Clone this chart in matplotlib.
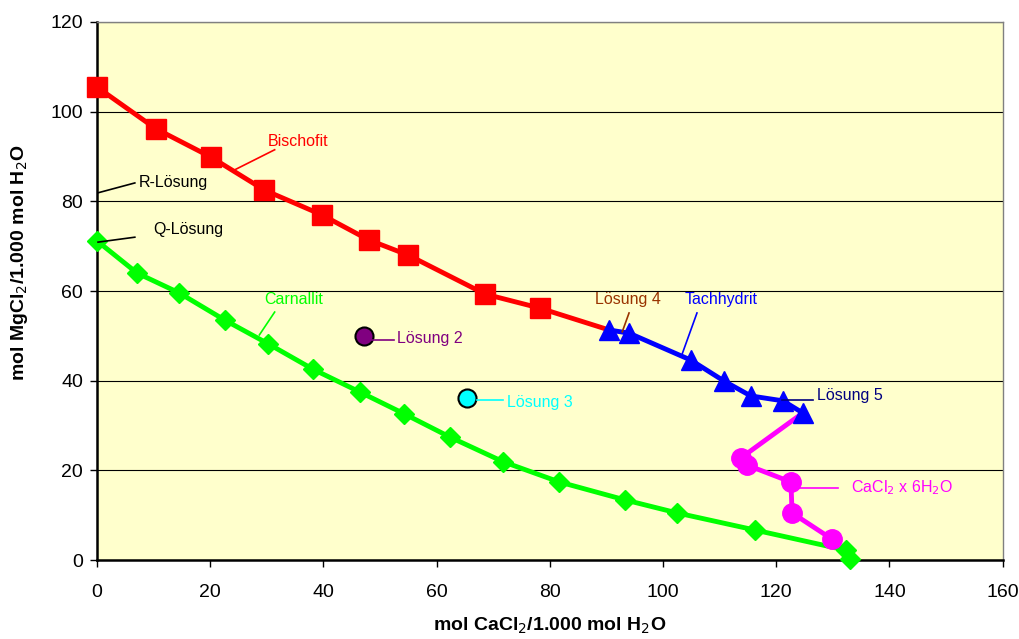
import matplotlib.pyplot as plt

plt.rcParams['font.family'] = ['Liberation Sans', 'DejaVu Sans']

# Bischofit (red squares)
bis_x = [0, 10.4, 20.1, 29.6, 39.7, 48.0, 55.0, 68.6, 78.2]
bis_y = [105.5, 96.2, 89.9, 82.5, 77.0, 71.4, 68.0, 59.3, 56.2]

# Tachhydrit (blue triangles)
tach_x = [90.5, 94.0, 104.9, 110.8, 115.5, 121.2, 124.7]
tach_y = [51.3, 50.6, 44.6, 39.9, 36.6, 35.5, 32.8]

# CaCl2 x 6H2O (magenta circles)
cacl_x = [113.8, 114.8, 122.6, 122.8, 129.8]
cacl_y = [22.8, 21.2, 17.4, 10.5, 4.7]

# Carnallit (green diamonds)
carn_x = [0, 7.1, 14.5, 22.6, 30.3, 38.1, 46.4, 54.3, 62.4, 71.8, 81.7, 93.3, 102.5, 116.2, 132.3, 133.0]
carn_y = [71.2, 64.0, 59.6, 53.5, 48.2, 42.6, 37.5, 32.6, 27.4, 21.9, 17.4, 13.4, 10.5, 6.7, 2.2, 0.3]

# single solutions
loes2 = (47.1, 50.0)
loes3 = (65.3, 36.1)

fig = plt.figure(figsize=(10.2, 6.39), dpi=100)
ax = fig.add_axes([0.095, 0.1236, 0.888, 0.842])
ax.set_facecolor('#FFFFCC')

ax.plot(carn_x, carn_y, '-D', color='#00FF00', lw=3.5, ms=10, mec='#00FF00', zorder=3, clip_on=False)
ax.plot(bis_x + [tach_x[0]], bis_y + [tach_y[0]], '-', color='#FF0000', lw=3.5, zorder=3)
ax.plot(bis_x, bis_y, 's', color='#FF0000', ms=14, zorder=4, clip_on=False)
ax.plot([tach_x[-1]] + cacl_x, [tach_y[-1]] + cacl_y, '-', color='#FF00FF', lw=3.5, zorder=3)
ax.plot(cacl_x, cacl_y, 'o', color='#FF00FF', ms=14, zorder=4)
ax.plot(tach_x, tach_y, '-^', color='#0000FF', lw=3.5, ms=14, zorder=5)

ax.plot(*loes2, 'o', color='#800080', ms=13, mec='black', mew=1.5, zorder=5)
ax.plot(*loes3, 'o', color='#00FFFF', ms=13, mec='black', mew=1.5, zorder=5)

# labels with leader lines: (text, text pos, line start, line end, colour)
labels = [
    ('Bischofit', (30.2, 93.4), (24.3, 87.0), (31.4, 91.5), '#FF0000'),
    ('R-Lösung', (7.4, 84.1), (0.2, 81.9), (6.7, 84.1), 'black'),
    ('Q-Lösung', (9.9, 73.8), (0.2, 70.9), (6.7, 72.0), 'black'),
    ('Carnallit', (29.6, 58.2), (28.7, 50.2), (31.4, 55.3), '#00FF00'),
    ('Lösung 4', (88.0, 58.0), (92.8, 50.9), (94.0, 55.1), '#993300'),
    ('Tachhydrit', (103.9, 58.0), (103.4, 46.0), (106.0, 55.1), '#0000FF'),
    ('Lösung 5', (127.2, 36.8), (121.0, 35.7), (126.5, 35.7), '#000080'),
    ('Lösung 2', (53.1, 49.5), (48.5, 49.1), (52.4, 49.1), '#800080'),
    ('Lösung 3', (72.5, 35.2), (67.2, 35.7), (71.8, 35.7), '#00FFFF'),
    ('CaCl$_2$ x 6H$_2$O', (133.2, 16.1), (123.5, 16.1), (131.0, 16.1), '#FF00FF'),
]
for txt, tp, p0, p1, c in labels:
    ax.plot([p0[0], p1[0]], [p0[1], p1[1]], '-', color=c, lw=1.2, zorder=6)
    ax.text(tp[0], tp[1], txt, color=c, fontsize=11.5, ha='left', va='center', zorder=6)

ax.set_xlim(0, 160)
ax.set_ylim(0, 120)
ax.set_xticks(range(0, 161, 20))
ax.set_yticks(range(0, 121, 20))
ax.tick_params(labelsize=14, direction='out', length=5, width=1)
ax.tick_params(axis='x', pad=12)
ax.tick_params(axis='y', pad=5)
ax.yaxis.grid(True, color='black', lw=0.8)
ax.set_axisbelow(True)
for s in ['left', 'bottom']:
    ax.spines[s].set_linewidth(1.8)
for s in ['top', 'right']:
    ax.spines[s].set_color('#808080')
    ax.spines[s].set_linewidth(1)

ax.set_xlabel('mol CaCl$_2$/1.000 mol H$_2$O', fontsize=14, fontweight='bold')
ax.set_ylabel('mol MgCl$_2$/1.000 mol H$_2$O', fontsize=14, fontweight='bold')
ax.xaxis.set_label_coords(0.4995, -0.123)
ax.xaxis.label.set_va('center')
ax.yaxis.set_label_coords(-0.085, 0.552)
ax.yaxis.label.set_va('center')

fig.savefig('out.png', dpi=100)
